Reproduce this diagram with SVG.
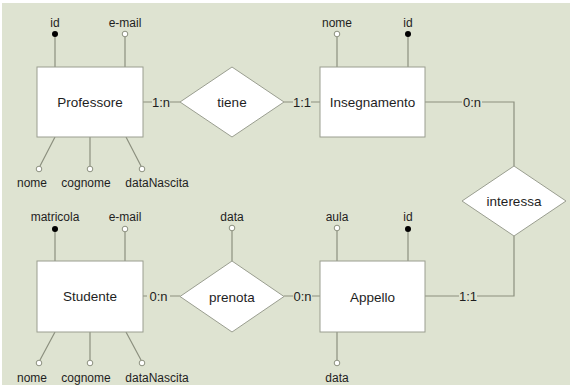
<svg xmlns="http://www.w3.org/2000/svg" width="570" height="385" viewBox="0 0 570 385">
  <style>
    .ent { fill: #ffffff; stroke: #9a9e90; stroke-width: 1; }
    .rel { fill: #ffffff; stroke: #9a9e90; stroke-width: 1; }
    .ln { fill: none; stroke: #8c907f; stroke-width: 1.2; }
    .key { fill: #000000; }
    .opt { fill: #ffffff; stroke: #8c907f; stroke-width: 1; }
    text { font-family: "Liberation Sans", Arial, sans-serif; fill: #1e1e1e; text-anchor: middle; }
    .name { font-size: 13.5px; }
    .attr { font-size: 12px; }
    .card { font-size: 13px; }
  </style>

  <!-- canvas -->
  <rect x="0" y="0" width="570" height="385" fill="#ffffff"/>
  <rect x="2" y="3" width="568" height="382" fill="#dee3d1"/>

  <!-- connectors between entities and relationships -->
  <g id="connectors">
    <path class="ln" d="M143 102 H152 M170 102 H180"/>
    <text class="card" x="161" y="106.5">1:n</text>
    <path class="ln" d="M284 102 H293 M311 102 H320"/>
    <text class="card" x="302" y="106.5">1:1</text>
    <path class="ln" d="M425 102 H462 M482 102 H514 V166"/>
    <text class="card" x="472" y="106.5">0:n</text>
    <path class="ln" d="M514 236 V296 H477 M459 296 H425"/>
    <text class="card" x="468" y="300.5">1:1</text>
    <path class="ln" d="M143 296 H147 M170 296 H180"/>
    <text class="card" x="158.5" y="300.5">0:n</text>
    <path class="ln" d="M284 296 H293 M312 296 H320"/>
    <text class="card" x="302.5" y="300.5">0:n</text>
  </g>

  <g id="professore">
    <path class="ln" d="M55 67 V36 M125 67 V37 M55 137 L40 166 M90 137 V166 M126 137 L141 166"/>
    <circle class="key" cx="55" cy="34" r="3"/>
    <circle class="opt" cx="125" cy="34" r="2.8"/>
    <circle class="opt" cx="39" cy="169" r="2.8"/>
    <circle class="opt" cx="90" cy="169" r="2.8"/>
    <circle class="opt" cx="142" cy="169" r="2.8"/>
    <rect class="ent" x="37" y="67" width="106" height="70"/>
    <text class="name" x="90" y="107">Professore</text>
    <text class="attr" x="55" y="27">id</text>
    <text class="attr" x="125" y="27">e-mail</text>
    <text class="attr" x="32" y="187">nome</text>
    <text class="attr" x="86" y="187">cognome</text>
    <text class="attr" x="157" y="187">dataNascita</text>
  </g>

  <g id="tiene">
    <polygon class="rel" points="180,102 232,67 284,102 232,137"/>
    <text class="name" x="232" y="107">tiene</text>
  </g>

  <g id="insegnamento">
    <path class="ln" d="M337 67 V37 M408 67 V36"/>
    <circle class="opt" cx="337" cy="34" r="2.8"/>
    <circle class="key" cx="408" cy="34" r="3"/>
    <rect class="ent" x="320" y="67" width="105" height="70"/>
    <text class="name" x="372.5" y="107">Insegnamento</text>
    <text class="attr" x="337" y="27">nome</text>
    <text class="attr" x="408" y="27">id</text>
  </g>

  <g id="interessa">
    <polygon class="rel" points="462,201 514,166 566,201 514,236"/>
    <text class="name" x="514" y="206">interessa</text>
  </g>

  <g id="studente">
    <path class="ln" d="M55 261 V231 M125 261 V232 M55 332 L40 360 M90 332 V360 M126 332 L141 360"/>
    <circle class="key" cx="55" cy="229" r="3"/>
    <circle class="opt" cx="125" cy="229" r="2.8"/>
    <circle class="opt" cx="39" cy="363" r="2.8"/>
    <circle class="opt" cx="90" cy="363" r="2.8"/>
    <circle class="opt" cx="142" cy="363" r="2.8"/>
    <rect class="ent" x="37" y="261" width="106" height="71"/>
    <text class="name" x="90" y="301">Studente</text>
    <text class="attr" x="55" y="221">matricola</text>
    <text class="attr" x="125" y="221">e-mail</text>
    <text class="attr" x="32" y="382">nome</text>
    <text class="attr" x="86" y="382">cognome</text>
    <text class="attr" x="157" y="382">dataNascita</text>
  </g>

  <g id="prenota">
    <path class="ln" d="M232 261 V231"/>
    <circle class="opt" cx="232" cy="228" r="2.8"/>
    <polygon class="rel" points="180,296.5 232,261 284,296.5 232,332"/>
    <text class="name" x="232" y="301.5">prenota</text>
    <text class="attr" x="232" y="221">data</text>
  </g>

  <g id="appello">
    <path class="ln" d="M337 261 V231 M408 261 V232 M337 332 V360"/>
    <circle class="opt" cx="337" cy="228" r="2.8"/>
    <circle class="key" cx="408" cy="229" r="3"/>
    <circle class="opt" cx="337" cy="363" r="2.8"/>
    <rect class="ent" x="320" y="261" width="105" height="71"/>
    <text class="name" x="372.5" y="301.5">Appello</text>
    <text class="attr" x="337" y="221">aula</text>
    <text class="attr" x="408" y="221">id</text>
    <text class="attr" x="337" y="382">data</text>
  </g>
</svg>
